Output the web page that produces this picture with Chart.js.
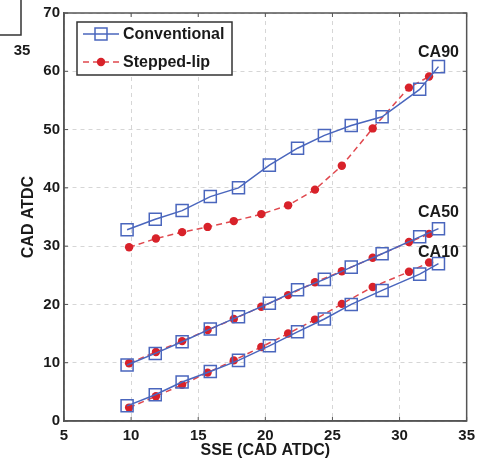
<!DOCTYPE html>
<html>
<head>
<meta charset="utf-8">
<script src="https://cdn.jsdelivr.net/npm/chart.js@4/dist/chart.umd.min.js"></script>
<style>
  html, body { margin: 0; padding: 0; background: #fff; }
  #wrap { width: 481px; height: 464px; }
</style>
</head>
<body>
<div id="wrap"><canvas id="chart" width="481" height="464"></canvas></div>
<script>
// SSE values (x) for each engine build
const sseConventional = [9.7, 11.8, 13.8, 15.9, 18.0, 20.3, 22.4, 24.4, 26.4, 28.7, 31.5, 32.9];
const sseSteppedLip   = [9.85, 11.85, 13.8, 15.7, 17.65, 19.7, 21.7, 23.7, 25.7, 28.0, 30.7, 32.2];

// CA10 / CA50 / CA90 (CAD ATDC)
const ca90Conventional = [32.8, 34.6, 36.1, 38.5, 40.0, 43.9, 46.8, 49.0, 50.7, 52.2, 56.9, 60.8];
const ca50Conventional = [9.6, 11.6, 13.6, 15.8, 17.9, 20.2, 22.5, 24.3, 26.4, 28.7, 31.6, 33.0];
const ca10Conventional = [2.6, 4.5, 6.7, 8.5, 10.4, 12.9, 15.3, 17.5, 20.0, 22.4, 25.2, 27.0];

const ca90SteppedLip = [29.8, 31.3, 32.4, 33.3, 34.3, 35.5, 37.0, 39.7, 43.8, 50.2, 57.2, 59.1];
const ca50SteppedLip = [9.9, 11.85, 13.7, 15.6, 17.5, 19.6, 21.6, 23.8, 25.7, 28.0, 30.7, 32.1];
const ca10SteppedLip = [2.3, 4.25, 6.2, 8.3, 10.4, 12.7, 15.0, 17.4, 20.1, 23.0, 25.6, 27.2];

// curve labels (text, x, y in data units)
const curveLabels = ['CA90', 'CA50', 'CA10'];
const curveLabelX = [32.9, 32.9, 32.9];
const curveLabelY = [63.2, 35.7, 28.9];

const seriesNames = ['Conventional', 'Stepped-lip'];

const BLUE = '#4a66bd';
const RED = '#d8222a';
const RED_LINE = '#e0484e';
const FONT = '"Liberation Sans", Arial, Helvetica, sans-serif';

function toPoints(xs, ys) {
    return xs.map((x, i) => ({ x: x, y: ys[i] }));
}

function conventionalSet(ys) {
    return {
        label: seriesNames[0],
        data: toPoints(sseConventional, ys),
        borderColor: BLUE,
        borderWidth: 1.5,
        pointStyle: 'rect',
        pointRadius: 8.5,
        pointBorderWidth: 1.5,
        pointBorderColor: BLUE,
        pointBackgroundColor: 'rgba(0,0,0,0)',
        showLine: true
    };
}

function steppedSet(ys) {
    return {
        label: seriesNames[1],
        data: toPoints(sseSteppedLip, ys),
        borderColor: RED_LINE,
        borderWidth: 1.5,
        borderDash: [6, 4],
        pointStyle: 'circle',
        pointRadius: 4.2,
        pointBorderWidth: 0,
        pointBackgroundColor: RED,
        showLine: true
    };
}

// frame + inward tick marks, curve labels, legend box, leftover of neighbour panel
const decorations = {
    id: 'decorations',
    afterDraw(chart) {
        const ctx = chart.ctx;
        const a = chart.chartArea;
        const xs = chart.scales.x;
        const ys = chart.scales.y;
        ctx.save();

        // frame
        ctx.strokeStyle = '#555';
        ctx.lineWidth = 1.5;
        ctx.strokeRect(a.left, a.top, a.right - a.left, a.bottom - a.top);

        // inward ticks
        ctx.lineWidth = 1;
        ctx.beginPath();
        xs.ticks.forEach(t => {
            const px = xs.getPixelForValue(t.value);
            ctx.moveTo(px, a.bottom); ctx.lineTo(px, a.bottom - 4);
            ctx.moveTo(px, a.top); ctx.lineTo(px, a.top + 4);
        });
        ys.ticks.forEach(t => {
            const py = ys.getPixelForValue(t.value);
            ctx.moveTo(a.left, py); ctx.lineTo(a.left + 4, py);
            ctx.moveTo(a.right, py); ctx.lineTo(a.right - 4, py);
        });
        ctx.stroke();

        // curve labels
        ctx.fillStyle = '#1a1a1a';
        ctx.font = 'bold 16px ' + FONT;
        ctx.textAlign = 'center';
        ctx.textBaseline = 'middle';
        curveLabels.forEach((txt, i) => {
            ctx.fillText(txt, xs.getPixelForValue(curveLabelX[i]), ys.getPixelForValue(curveLabelY[i]));
        });

        // legend
        const lx = 77, ly = 22, lw = 155, lh = 53;
        ctx.fillStyle = '#fff';
        ctx.fillRect(lx, ly, lw, lh);
        ctx.strokeStyle = '#333';
        ctx.lineWidth = 1.5;
        ctx.strokeRect(lx, ly, lw, lh);

        const rows = [34, 62];
        // conventional sample
        ctx.strokeStyle = BLUE;
        ctx.lineWidth = 1.5;
        ctx.beginPath();
        ctx.moveTo(83, rows[0]); ctx.lineTo(119, rows[0]);
        ctx.stroke();
        ctx.strokeRect(95, rows[0] - 6, 12, 12);
        // stepped-lip sample
        ctx.strokeStyle = RED_LINE;
        ctx.setLineDash([6, 4]);
        ctx.beginPath();
        ctx.moveTo(83, rows[1]); ctx.lineTo(119, rows[1]);
        ctx.stroke();
        ctx.setLineDash([]);
        ctx.fillStyle = RED;
        ctx.beginPath();
        ctx.arc(101, rows[1], 4.2, 0, Math.PI * 2);
        ctx.fill();

        ctx.fillStyle = '#1a1a1a';
        ctx.font = 'bold 16px ' + FONT;
        ctx.textAlign = 'left';
        seriesNames.forEach((name, i) => ctx.fillText(name, 123, rows[i] + 1));

        // edge of the neighbouring panel, top-left
        ctx.strokeStyle = '#333';
        ctx.lineWidth = 1.5;
        ctx.beginPath();
        ctx.moveTo(21, 0); ctx.lineTo(21, 35); ctx.lineTo(0, 35);
        ctx.stroke();
        ctx.font = 'bold 15px ' + FONT;
        ctx.textAlign = 'center';
        ctx.fillText('35', 22, 51);

        ctx.restore();
    }
};

const ctx = document.getElementById('chart').getContext('2d');

new Chart(ctx, {
    type: 'scatter',
    data: {
        datasets: [
            conventionalSet(ca90Conventional),
            conventionalSet(ca50Conventional),
            conventionalSet(ca10Conventional),
            steppedSet(ca90SteppedLip),
            steppedSet(ca50SteppedLip),
            steppedSet(ca10SteppedLip)
        ]
    },
    options: {
        responsive: false,
        animation: false,
        layout: { padding: { left: 0, top: 9, right: 7, bottom: 0 } },
        plugins: {
            legend: { display: false },
            tooltip: { enabled: false }
        },
        scales: {
            x: {
                type: 'linear',
                min: 5,
                max: 35,
                ticks: {
                    stepSize: 5,
                    padding: 6,
                    color: '#1a1a1a',
                    font: { family: FONT, size: 15, weight: 'bold' }
                },
                grid: { color: '#d6d6d6', drawTicks: false, lineWidth: 1 },
                border: { color: '#555', width: 1.5, dash: [4, 4] },
                title: {
                    display: true,
                    text: 'SSE (CAD ATDC)',
                    color: '#1a1a1a',
                    font: { family: FONT, size: 16, weight: 'bold' },
                    padding: { top: 0, bottom: 4 }
                },
                afterFit(scale) { scale.height = 43; }
            },
            y: {
                type: 'linear',
                min: 0,
                max: 70,
                ticks: {
                    stepSize: 10,
                    padding: 4,
                    color: '#1a1a1a',
                    font: { family: FONT, size: 15, weight: 'bold' }
                },
                grid: { color: '#d6d6d6', drawTicks: false, lineWidth: 1 },
                border: { color: '#555', width: 1.5, dash: [4, 4] },
                title: {
                    display: true,
                    text: 'CAD ATDC',
                    color: '#1a1a1a',
                    font: { family: FONT, size: 16, weight: 'bold' },
                    padding: { top: 19, bottom: 0 }
                },
                afterFit(scale) { scale.width = 64; }
            }
        }
    },
    plugins: [decorations]
});
</script>
</body>
</html>
